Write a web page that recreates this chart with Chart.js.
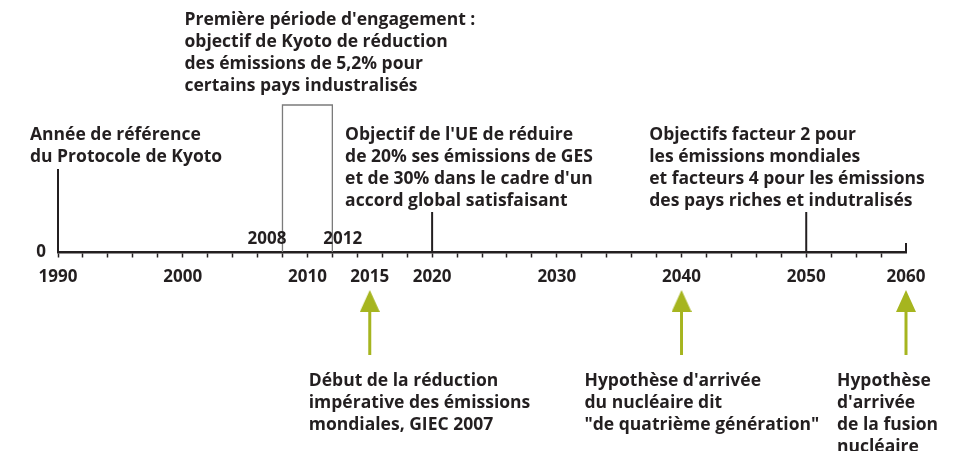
<!DOCTYPE html>
<html lang="fr">
<head>
<meta charset="UTF-8">
<title>Calendrier Kyoto</title>
<style>
  html, body { margin: 0; padding: 0; background: #fff; }
</style>
</head>
<body>
<canvas id="timeline" width="967" height="451"></canvas>
<script src="https://cdn.jsdelivr.net/npm/chart.js"></script>
<script>
// --- data ---
const labeledYears = [1990, 2000, 2010, 2015, 2020, 2030, 2040, 2050, 2060];
const markerYears = [1990, 2020, 2050, 2060];
const periodYears = [2008, 2012];
const arrowYears = [2015, 2040, 2060];
const noteYears = [1990, 2008, 2020, 2050, 2015, 2040, 2060];
const noteLines = [
  ["Année de référence", "du Protocole de Kyoto"],
  ["Première période d'engagement :", "objectif de Kyoto de réduction", "des émissions de 5,2% pour", "certains pays industralisés"],
  ["Objectif de l'UE de réduire", "de 20% ses émissions de GES", "et de 30% dans le cadre d'un", "accord global satisfaisant"],
  ["Objectifs facteur 2 pour", "les émissions mondiales", "et facteurs 4 pour les émissions", "des pays riches et indutralisés"],
  ["Début de la réduction", "impérative des émissions", "mondiales, GIEC 2007"],
  ["Hypothèse d'arrivée", "du nucléaire dit", "\"de quatrième génération\""],
  ["Hypothèse", "d'arrivée", "de la fusion", "nucléaire"]
];

// --- layout / style ---
const ink = '#231f20';
const green = '#a6b51f';
const font = { family: 'Open Sans', size: 17, weight: 'bold' };
const noteFont = 'bold 17.5px "Open Sans"';
// axis is compressed after 2050 (2060 sits where 2058 would be)
const breakYear = 2050, breakScale = 0.8;
const pos = y => y <= breakYear ? y : breakYear + (y - breakYear) * breakScale;
const unpos = p => p <= breakYear ? p : breakYear + (p - breakYear) / breakScale;
const markerLen = [83, 40, 40, 9];
const periodLen = 147;
const arrowFrom = -103, arrowTo = -58, arrowHeadAt = -49;
// [dx in px from the year, baseline value on y]
const noteOffsets = [[-28, 112], [-98, 227], [-87, 112], [-157, 112], [-61, -134], [-97, -134], [-69, -134]];
const lineGap = 22;

const head = document.createElement('canvas');
head.width = 20; head.height = 22;
(function () {
  const c = head.getContext('2d');
  c.fillStyle = green;
  c.beginPath(); c.moveTo(10, 0); c.lineTo(20, 22); c.lineTo(0, 22); c.closePath(); c.fill();
})();

const datasets = [];
markerYears.forEach((yr, i) => {
  datasets.push({
    data: [{ x: pos(yr), y: 0 }, { x: pos(yr), y: markerLen[i] }],
    borderColor: ink, borderWidth: 2, showLine: true, pointRadius: 0, clip: false
  });
});
datasets.push({
  data: [
    { x: periodYears[0], y: 0 }, { x: periodYears[0], y: periodLen },
    { x: periodYears[1], y: periodLen }, { x: periodYears[1], y: 0 }
  ],
  borderColor: '#7b7b7b', borderWidth: 1.3, showLine: true, pointRadius: 0, clip: false
});
arrowYears.forEach(yr => {
  datasets.push({
    data: [{ x: pos(yr), y: arrowFrom }, { x: pos(yr), y: arrowTo }],
    borderColor: green, borderWidth: 3, showLine: true, pointRadius: 0, clip: false
  });
});
datasets.push({
  data: arrowYears.map(yr => ({ x: pos(yr), y: arrowHeadAt })),
  pointStyle: head, pointRadius: 10, showLine: false, clip: false
});

const notesPlugin = {
  id: 'notes',
  afterDatasetsDraw(chart) {
    const { ctx, scales: { x, y } } = chart;
    ctx.save();
    ctx.fillStyle = ink;
    ctx.font = noteFont;
    ctx.textBaseline = 'alphabetic';
    ctx.textAlign = 'left';
    noteYears.forEach((yr, i) => {
      const px = x.getPixelForValue(pos(yr)) + noteOffsets[i][0];
      const py = y.getPixelForValue(noteOffsets[i][1]);
      noteLines[i].forEach((t, k) => ctx.fillText(t, px, py + k * lineGap));
    });
    // start / end of the commitment period
    ctx.font = 'bold 17px "Open Sans"';
    ctx.fillText(String(periodYears[0]), x.getPixelForValue(periodYears[0]) - 35, y.getPixelForValue(8));
    ctx.fillText(String(periodYears[1]), x.getPixelForValue(periodYears[1]) - 9, y.getPixelForValue(8));
    ctx.restore();
  }
};

new Chart(document.getElementById('timeline'), {
  type: 'scatter',
  data: { datasets },
  plugins: [notesPlugin],
  options: {
    responsive: false,
    animation: false,
    events: [],
    layout: { autoPadding: false, padding: { left: 0, right: 61, top: 0, bottom: 0 } },
    plugins: { legend: { display: false }, tooltip: { enabled: false } },
    scales: {
      x: {
        type: 'linear',
        min: pos(1990),
        max: pos(2060),
        position: { y: 0 },
        afterFit: s => { s.height = 0; },
        afterBuildTicks: s => {
          const t = [];
          for (let v = pos(1990); v <= pos(2060) + 0.01; v += 2) t.push({ value: v });
          t.push({ value: pos(2015) });
          s.ticks = t.sort((a, b) => a.value - b.value);
        },
        ticks: {
          autoSkip: false, maxRotation: 0, padding: 11, color: ink, font,
          callback: v => {
            const yr = Math.round(unpos(v) * 10) / 10;
            return labeledYears.includes(yr) ? String(yr) : '';
          }
        },
        grid: {
          drawOnChartArea: false, tickLength: 4, tickWidth: 1.5,
          tickColor: c => (c.tick && (Math.abs(c.tick.value - pos(2015)) < 0.01 || c.tick.value >= pos(2060) - 0.01)) ? 'rgba(0,0,0,0)' : ink
        },
        border: { display: true, color: ink, width: 2.5 }
      },
      y: {
        type: 'linear',
        min: -199,
        max: 252,
        position: 'left',
        afterFit: s => { s.width = 58; s.paddingTop = 0; s.paddingBottom = 0; },
        afterBuildTicks: s => { s.ticks = [{ value: 0 }]; },
        ticks: { padding: 12, color: ink, font, callback: v => String(v) },
        grid: { display: false, drawTicks: false },
        border: { display: false }
      }
    }
  }
});
</script>
</body>
</html>
